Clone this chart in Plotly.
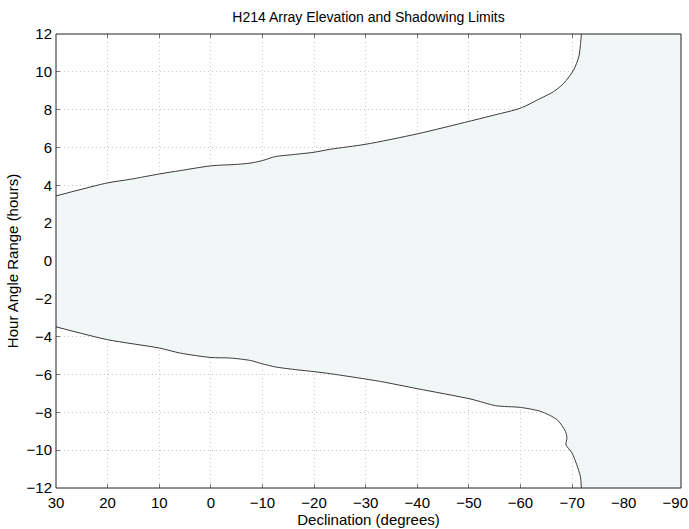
import plotly.graph_objects as go

# declination (deg) and hour angle limits (hours)
dec_upper = [30, 20, 15.6, 10, 5.9, 0, -5.7, -8, -10, -12.5, -15.4, -20, -23.2, -30,
             -40, -50, -55, -60, -63.9, -66.4, -68.4, -70.3, -71.3, -71.7, -71.8]
ha_upper = [3.44, 4.13, 4.32, 4.6, 4.78, 5.03, 5.12, 5.19, 5.31, 5.52, 5.61, 5.75, 5.91, 6.17,
            6.72, 7.38, 7.72, 8.08, 8.6, 8.95, 9.4, 10.1, 10.8, 11.69, 12]

dec_lower = [30, 20, 10, 5.9, 0, -3.8, -7.7, -9.9, -12.5, -15.4, -20, -23.2, -32.9,
             -40, -50.4, -55.2, -60, -63.9, -67.1, -68.7, -69.0, -68.8, -70, -70.9, -71.6, -71.8]
ha_lower = [-3.48, -4.16, -4.6, -4.87, -5.1, -5.13, -5.26, -5.43, -5.6, -5.71, -5.85, -5.96, -6.37,
            -6.75, -7.3, -7.65, -7.74, -7.95, -8.39, -9.0, -9.36, -9.71, -10.15, -10.77, -11.38, -12]

x_ticks = list(range(30, -91, -10))
y_ticks = list(range(-12, 13, 2))
X_RANGE = [30, -91.1]
Y_RANGE = [-12, 12]

FILL = '#f2f6f6'
LINE = '#3a3a3a'
FONT = 'Liberation Sans, Arial, sans-serif'

# observable region: between the two limits, plus everything south of the cut-off
poly_x = dec_upper + [X_RANGE[1] - 5, X_RANGE[1] - 5] + dec_lower[::-1]
poly_y = ha_upper + [Y_RANGE[1] + 2, Y_RANGE[0] - 2] + ha_lower[::-1]

fig = go.Figure()
fig.add_trace(go.Scatter(x=poly_x, y=poly_y, mode='lines', fill='toself', fillcolor=FILL,
                         line={'width': 0, 'shape': 'spline', 'smoothing': 0.7},
                         hoverinfo='skip', showlegend=False))
for xs, ys in [(dec_upper, ha_upper), (dec_lower, ha_lower)]:
    fig.add_trace(go.Scatter(x=xs, y=ys, mode='lines',
                             line={'color': LINE, 'width': 1, 'shape': 'spline', 'smoothing': 0.7},
                             showlegend=False))

axis_common = dict(showgrid=True, gridcolor='#c8c8c8', griddash='1px,3px', gridwidth=1,
                   ticks='inside', ticklen=4, tickcolor='#777', mirror='ticks',
                   showline=False, zeroline=False, layer='below traces', automargin=False,
                   tickfont={'size': 15, 'color': 'black', 'family': FONT})

fig.update_xaxes(range=X_RANGE, tickvals=x_ticks, ticktext=[str(v).replace('-', '\u2212') for v in x_ticks],
                 ticklabelstandoff=4,
                 title={'text': 'Declination (degrees)', 'font': {'size': 15, 'color': 'black', 'family': FONT},
                        'standoff': 0},
                 **axis_common)
fig.update_yaxes(range=Y_RANGE, tickvals=y_ticks, ticktext=[str(v).replace('-', '\u2212') for v in y_ticks],
                 ticklabelstandoff=3,
                 title={'text': 'Hour Angle Range (hours)', 'font': {'size': 15, 'color': 'black', 'family': FONT},
                        'standoff': 4},
                 **axis_common)

fig.add_shape(type='rect', xref='paper', yref='paper', x0=0, y0=0, x1=1, y1=1,
              line={'color': '#222', 'width': 1})

fig.update_layout(
    width=689, height=529,
    margin=dict(l=56, r=8, t=34, b=41),
    paper_bgcolor='white', plot_bgcolor='white',
    title={'text': 'H214 Array Elevation and Shadowing Limits', 'x': 0.5, 'xref': 'paper',
           'xanchor': 'center', 'y': 1 - 17 / 529, 'yref': 'container', 'yanchor': 'middle',
           'font': {'size': 14, 'color': 'black', 'family': FONT}},
    font={'family': FONT},
)

fig.write_html("out.html", config={'displayModeBar': False},
               post_script="document.body.style.margin='0';")
